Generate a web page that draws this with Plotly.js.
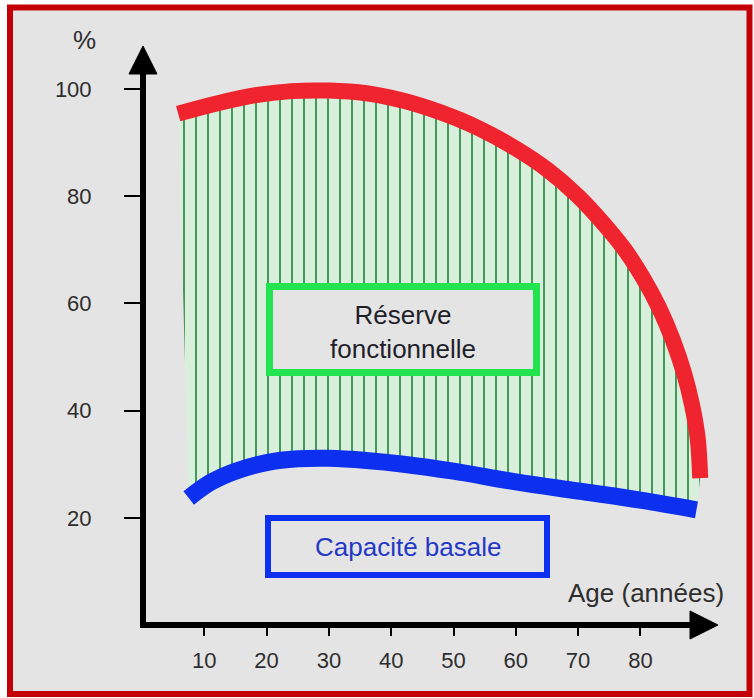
<!DOCTYPE html>
<html>
<head>
<meta charset="utf-8">
<script src="https://cdn.plot.ly/plotly-3.0.1.min.js"></script>
<style>html,body{margin:0;padding:0;background:#fff;}#chart{width:754px;height:698px;}</style>
</head>
<body>
<div id="chart"></div>
<script>
// ---- data ----
const ageReserve = [5.8, 12, 18, 24, 30, 36, 42, 48, 54, 60, 65, 70, 74, 77.5, 80.5, 83, 85.2, 87, 88.3, 89.2, 89.6];
const reserve    = [95.4, 97.3, 98.8, 99.6, 99.7, 99.2, 97.8, 95.6, 92.7, 88.9, 85.0, 80.0, 75.0, 70.0, 64.6, 59.2, 53.2, 47.0, 41.0, 34.8, 27.4];
const ageBasal   = [7.5, 11, 15, 20, 25, 30, 36, 42, 50, 60, 70, 80, 89];
const basal      = [23.7, 26.6, 28.7, 30.3, 31.0, 31.1, 30.7, 30.0, 28.7, 26.7, 25.0, 23.3, 21.5];
const xTicks = [10, 20, 30, 40, 50, 60, 70, 80];
const yTicks = [20, 40, 60, 80, 100];
const labelReserve = "Réserve<br>fonctionnelle";
const labelBasal = "Capacité basale";
const labelX = "Age (années)";
const labelY = "%";

// ---- layout geometry ----
const W = 754, H = 698;
const M = {l: 142, r: 36, t: 46, b: 73};
const PW = W - M.l - M.r, PH = H - M.t - M.b;
const px = x => (x - M.l) / PW;          // pixel x -> paper
const py = y => (H - M.b - y) / PH;      // pixel y -> paper
const FONT = '"Liberation Sans", Arial, sans-serif';
const BG = '#e4e4e4';

const traces = [
  {x: ageBasal, y: basal, mode: 'lines', hoverinfo: 'skip', showlegend: false,
   line: {color: '#0c2ff0', width: 17, shape: 'spline', smoothing: 1}},
  {x: ageReserve, y: reserve, mode: 'lines', hoverinfo: 'skip', showlegend: false,
   fill: 'tonexty', fillcolor: '#d8efdc',
   fillpattern: {shape: '|', bgcolor: '#d8efdc', fgcolor: '#46985a', size: 12, solidity: 0.17},
   line: {color: '#f0242e', width: 16, shape: 'spline', smoothing: 1}}
];

const shapes = [
  // outer frame
  {type: 'rect', xref: 'paper', yref: 'paper', layer: 'below',
   x0: px(10), x1: px(749.5), y0: py(7.5), y1: py(694),
   fillcolor: BG, line: {color: '#c40006', width: 6}},
  // axis lines
  {type: 'line', xref: 'paper', yref: 'paper', x0: px(143), x1: px(143), y0: py(628), y1: py(70),
   line: {color: '#000', width: 6}},
  {type: 'line', xref: 'paper', yref: 'paper', x0: px(140), x1: px(695), y0: py(625), y1: py(625),
   line: {color: '#000', width: 6}},
  // arrow heads
  {type: 'path', xref: 'paper', yref: 'paper', fillcolor: '#000', line: {color: '#000', width: 1},
   path: `M ${px(143)} ${py(46)} L ${px(129)} ${py(74)} L ${px(157)} ${py(74)} Z`},
  {type: 'path', xref: 'paper', yref: 'paper', fillcolor: '#000', line: {color: '#000', width: 1},
   path: `M ${px(718)} ${py(625)} L ${px(690)} ${py(611)} L ${px(690)} ${py(639)} Z`},
  // label boxes
  {type: 'rect', xref: 'paper', yref: 'paper', layer: 'above',
   x0: px(269.5), x1: px(536.5), y0: py(286.5), y1: py(372.5),
   fillcolor: BG, line: {color: '#22e44e', width: 7}},
  {type: 'rect', xref: 'paper', yref: 'paper', layer: 'above',
   x0: px(268), x1: px(547), y0: py(518), y1: py(575),
   fillcolor: BG, line: {color: '#0c2ff0', width: 6}}
];

const annotations = [
  {xref: 'paper', yref: 'paper', x: px(403), y: py(332), text: labelReserve, showarrow: false,
   xanchor: 'center', yanchor: 'middle', font: {family: FONT, size: 26, color: '#1f1f2a'}},
  {xref: 'paper', yref: 'paper', x: px(408), y: py(547), text: labelBasal, showarrow: false,
   xanchor: 'center', yanchor: 'middle', font: {family: FONT, size: 26, color: '#2438c8'}},
  {xref: 'paper', yref: 'paper', x: px(646), y: py(593), text: labelX, showarrow: false,
   xanchor: 'center', yanchor: 'middle', font: {family: FONT, size: 26, color: '#2e2e2e'}},
  {xref: 'paper', yref: 'paper', x: px(84), y: py(40), text: labelY, showarrow: false,
   xanchor: 'center', yanchor: 'middle', font: {family: FONT, size: 26, color: '#2e2e2e'}}
];

const layout = {
  width: W, height: H,
  margin: M,
  paper_bgcolor: '#ffffff',
  plot_bgcolor: BG,
  showlegend: false,
  xaxis: {range: [0, PW / 6.23], showgrid: false, zeroline: false, showline: false,
          tickmode: 'array', tickvals: xTicks, ticktext: xTicks.map(String),
          ticks: 'outside', ticklen: 10, tickwidth: 2, tickcolor: '#000',
          ticklabelstandoff: 6,
          tickfont: {family: FONT, size: 22, color: '#2e2e2e'}, fixedrange: true},
  yaxis: {range: [0, PH / 5.36], showgrid: false, zeroline: false, showline: false,
          tickmode: 'array', tickvals: yTicks, ticktext: yTicks.map(String),
          ticks: 'outside', ticklen: 17, tickwidth: 2, tickcolor: '#000',
          ticklabelstandoff: 28,
          tickfont: {family: FONT, size: 22, color: '#2e2e2e'}, fixedrange: true},
  shapes: shapes,
  annotations: annotations
};

Plotly.newPlot('chart', traces, layout, {displayModeBar: false, staticPlot: true});
</script>
</body>
</html>
